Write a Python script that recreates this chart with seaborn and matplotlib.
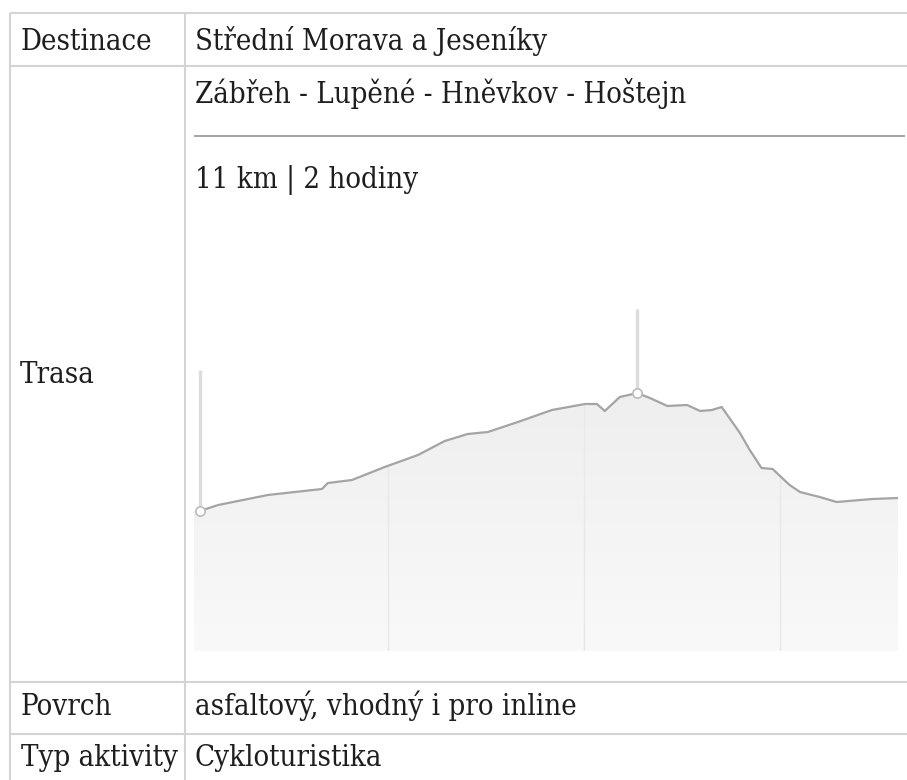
import numpy as np
import matplotlib
matplotlib.use("Agg")
import matplotlib.pyplot as plt
from matplotlib.patches import Polygon
import seaborn as sns

# ---- data -------------------------------------------------------------
table_labels = ["Destinace", "Trasa", "Povrch", "Typ aktivity"]
destination = "Střední Morava a Jeseníky"
route_name = "Zábřeh - Lupěné - Hněvkov - Hoštejn"
route_info = "11 km | 2 hodiny"
surface = "asfaltový, vhodný i pro inline"
activity = "Cykloturistika"

km = [0.12, 0.40, 1.16, 1.99, 2.08, 2.45, 2.95, 3.46, 3.87, 4.22, 4.53,
      4.99, 5.51, 6.02, 6.20, 6.32, 6.55, 6.82, 7.01, 7.28, 7.58, 7.78,
      7.96, 8.11, 8.39, 8.54, 8.72, 8.89, 9.15, 9.31, 9.61, 9.87, 10.42, 10.81]
elevation = [270, 273, 278, 281, 284, 285.5, 292, 298, 305, 308.5, 309.5,
             314.5, 320.5, 323.5, 323.5, 320, 327, 329, 326.5, 322.5, 323, 320,
             320.5, 322, 309, 300.5, 291.5, 291, 283, 279.5, 277, 274.5, 276, 276.5]
marker_km = [0.12, 6.82]
marker_elev = [270, 329]
marker_top = [340.5, 371]
grid_km = [3, 6, 9]

# ---- figure ------------------------------------------------------------
sns.set_style("white")
plt.rcParams["font.family"] = ["DejaVu Serif", "DejaVu Sans"]
W, H = 907, 780
fig = plt.figure(figsize=(W / 100, H / 100), dpi=100)

# overlay axes in pixel coordinates for the table
ov = fig.add_axes([0, 0, 1, 1], zorder=0)
ov.set_xlim(0, W)
ov.set_ylim(H, 0)
ov.axis("off")

border = "#d4d4d4"
blw = 1.5
for y in [13.3, 65.5, 681.5, 733.5]:
    ov.plot([10, W], [y, y], color=border, lw=blw, solid_capstyle="butt")
for x in [10, 185]:
    ov.plot([x, x], [13.3, H], color=border, lw=blw, solid_capstyle="butt")
ov.plot([194, 905], [136, 136], color="#a3a3a3", lw=1.4, solid_capstyle="butt")

tkw = dict(fontsize=21, color="#1e1e1e", va="baseline", ha="left",
           fontstretch="condensed")
ov.text(20.7, 50, table_labels[0], **tkw)
ov.text(195, 50, destination, **tkw)
ov.text(195, 103, route_name, **tkw)
ov.text(195, 188, route_info, **tkw)
ov.text(20, 383, table_labels[1], **tkw)
ov.text(20.7, 715, table_labels[2], **tkw)
ov.text(195, 715, surface, **tkw)
ov.text(20.7, 766, table_labels[3], **tkw)
ov.text(195, 766, activity, **tkw)

# chart axes
left, right, bottom_px, top_px = 194, 898, 651, 300
ax = fig.add_axes([left / W, 1 - bottom_px / H, (right - left) / W,
                   (bottom_px - top_px) / H], zorder=1)
ax.patch.set_alpha(0)
ymin, ymax = 200, 375.5
ax.set_xlim(0.03, 10.81)
ax.set_ylim(ymin, ymax)

# gradient fill under the profile
xs = np.array(km)
ys = np.array(elevation)
poly_xy = np.vstack([[0.03, ymin], [0.03, ys[0]], *np.column_stack([xs, ys]),
                     [10.81, ys[-1]], [10.81, ymin]])
clip = Polygon(poly_xy, closed=True, facecolor="none", edgecolor="none",
               transform=ax.transData)
ax.add_patch(clip)
grad = np.linspace(0, 1, 256).reshape(-1, 1)
cmap = matplotlib.colors.LinearSegmentedColormap.from_list(
    "g", ["#f9f9f9", "#ebebeb"])
im = ax.imshow(grad, extent=[0.03, 10.81, ymin, ymax], origin="lower",
               aspect="auto", cmap=cmap, zorder=1)
im.set_clip_path(clip)

for g in grid_km:
    ln, = ax.plot([g, g], [ymin, ymax], color="#e8e8e8", lw=1, zorder=2)
    ln.set_clip_path(clip)

sns.lineplot(x=km, y=elevation, ax=ax, color="#a4a4a4", lw=1.6, zorder=4)

for mk, me, mt in zip(marker_km, marker_elev, marker_top):
    ax.plot([mk, mk], [me, mt], color="#dcdcdc", lw=2.4, zorder=3,
            solid_capstyle="butt")
ax.scatter(marker_km, marker_elev, s=45, facecolor="white",
           edgecolor="#bcbcbc", linewidth=1.2, zorder=5)

ax.set_xlabel("")
ax.set_ylabel("")
ax.set_xticks([])
ax.set_yticks([])
for s in ax.spines.values():
    s.set_visible(False)

fig.savefig("out.png", dpi=100)
